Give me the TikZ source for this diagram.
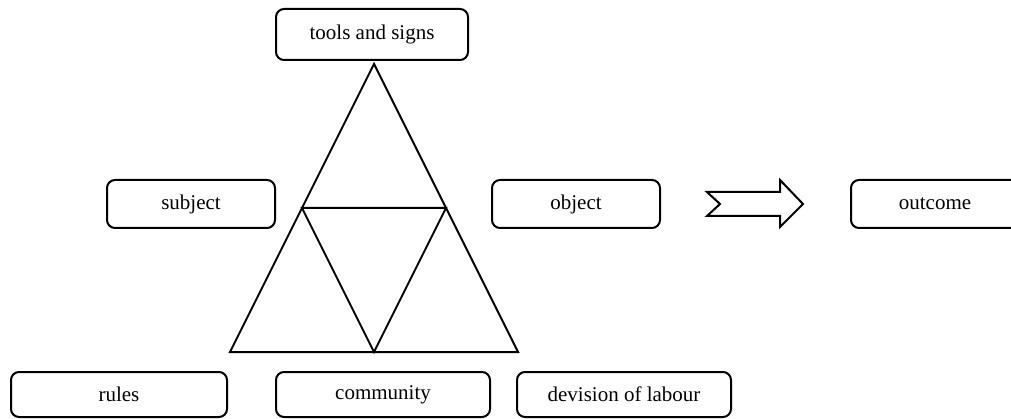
\documentclass[tikz,border=0pt]{standalone}
\usepackage{fontspec}
\setmainfont{Liberation Serif}
\usepackage{tikz}
\usetikzlibrary{calc}

\begin{document}
\begin{tikzpicture}[x=1pt, y=-1pt,
    box/.style={draw, line width=2pt, rounded corners=8pt, inner sep=0pt,
        minimum height=48pt, font=\fontsize{21}{25}\selectfont}]
    \useasboundingbox (0,0) rectangle (1011,419);

    % Triangle corners
    \coordinate (apex) at (374,64);
    \coordinate (baseL) at (230,352);
    \coordinate (baseR) at (518,352);
    \coordinate (midL) at ($(apex)!0.5!(baseL)$);
    \coordinate (midR) at ($(apex)!0.5!(baseR)$);
    \coordinate (midB) at ($(baseL)!0.5!(baseR)$);

    % Outer and inner triangle
    \draw[line width=2pt, line join=miter] (apex) -- (baseL) -- (baseR) -- cycle;
    \draw[line width=2pt, line join=miter] (midL) -- (midR) -- (midB) -- cycle;

    % Top row
    \node[box, minimum width=192pt, minimum height=51pt] (tools) at (372,34.5) {tools and signs};
    \node[box, minimum width=168pt] (subject) at (191,204) {subject};
    \node[box, minimum width=168pt] (object) at (576,204) {object};
    \node[box, minimum width=168pt] (outcome) at (935,204) {outcome};

    % Bottom row
    \node[box, minimum width=216pt, minimum height=45pt] (rules) at (119,394.5) {rules};
    \node[box, minimum width=214pt, minimum height=45pt] (community) at (383,394.5) {community};
    \node[box, minimum width=214pt, minimum height=45pt] (labour) at (624,394.5) {devision of labour};

    % Block arrow towards the outcome
    \draw[line width=2pt, line join=miter]
        (707,192) -- (780,192) -- (780,180) -- (803,204) -- (780,227)
        -- (780,216) -- (707,216) -- (720,204) -- cycle;
\end{tikzpicture}
\end{document}
